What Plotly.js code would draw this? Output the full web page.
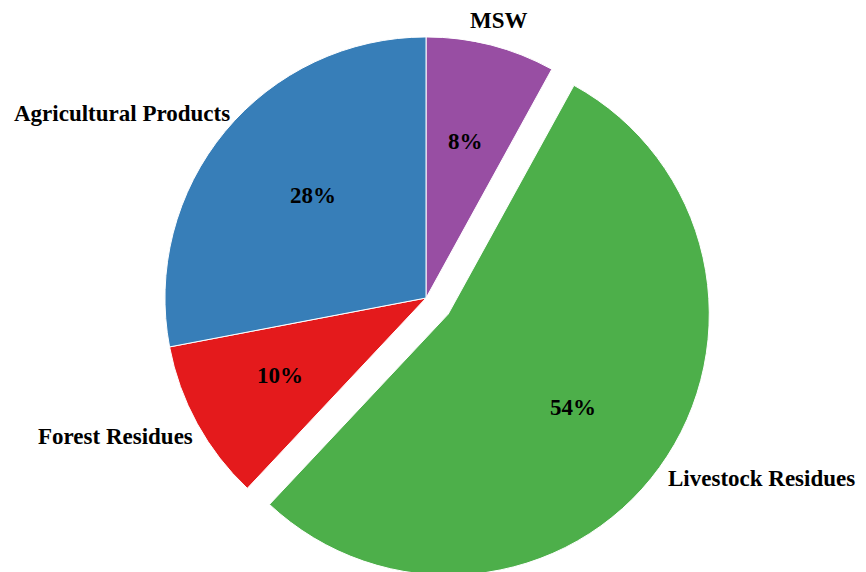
<!DOCTYPE html>
<html>
<head>
<meta charset="utf-8">
<script src="https://cdn.plot.ly/plotly-3.0.1.min.js"></script>
<style>
html,body{margin:0;padding:0;overflow:hidden;background:#fff;}
#chart{width:866px;height:587px;}
</style>
</head>
<body>
<div id="chart"></div>
<script>
// Data
const categories = ["MSW", "Livestock Residues", "Forest Residues", "Agricultural Products"];
const shares = [8, 54, 10, 28];
const pulls = [0, 0.105, 0, 0];
const colors = ["#984ea3", "#4daf4a", "#e41a1c", "#377eb8"];

// Label positions (paper coordinates)
const namePos = [
  [0.5762, 0.9659],
  [0.8799, 0.1840],
  [0.1328, 0.2572],
  [0.1409, 0.8058]
];
const pctPos = [
  [0.5375, 0.7589],
  [0.6611, 0.3058],
  [0.3233, 0.3603],
  [0.3609, 0.6678]
];

const W = 866, H = 587;
const total = shares.reduce((a, b) => a + b, 0);

const trace = {
  type: "pie",
  labels: categories,
  values: shares,
  pull: pulls,
  sort: false,
  direction: "clockwise",
  rotation: 0,
  marker: {colors: colors, line: {color: "#ffffff", width: 1}},
  textinfo: "none",
  hoverinfo: "none",
  showlegend: false,
  domain: {x: [0.1588, 0.8251], y: [0.00085, 0.9838]}
};

const serif = "Liberation Serif, Times New Roman, serif";

const nameAnn = categories.map((c, i) => ({
  text: "<b>" + c + "</b>",
  x: namePos[i][0], y: namePos[i][1],
  xref: "paper", yref: "paper",
  xanchor: "center", yanchor: "middle",
  showarrow: false,
  font: {family: serif, size: 23, color: "#000000"}
}));

const pctAnn = shares.map((v, i) => ({
  text: "<b>" + Math.round(v / total * 100) + "%</b>",
  x: pctPos[i][0], y: pctPos[i][1],
  xref: "paper", yref: "paper",
  xanchor: "center", yanchor: "middle",
  showarrow: false,
  font: {family: serif, size: 23, color: "#000000"}
}));

Plotly.newPlot("chart", [trace], {
  width: W, height: H,
  margin: {l: 0, r: 0, t: 0, b: 0, pad: 0},
  paper_bgcolor: "#ffffff",
  plot_bgcolor: "#ffffff",
  showlegend: false,
  annotations: nameAnn.concat(pctAnn)
}, {displayModeBar: false, staticPlot: true});
</script>
</body>
</html>
